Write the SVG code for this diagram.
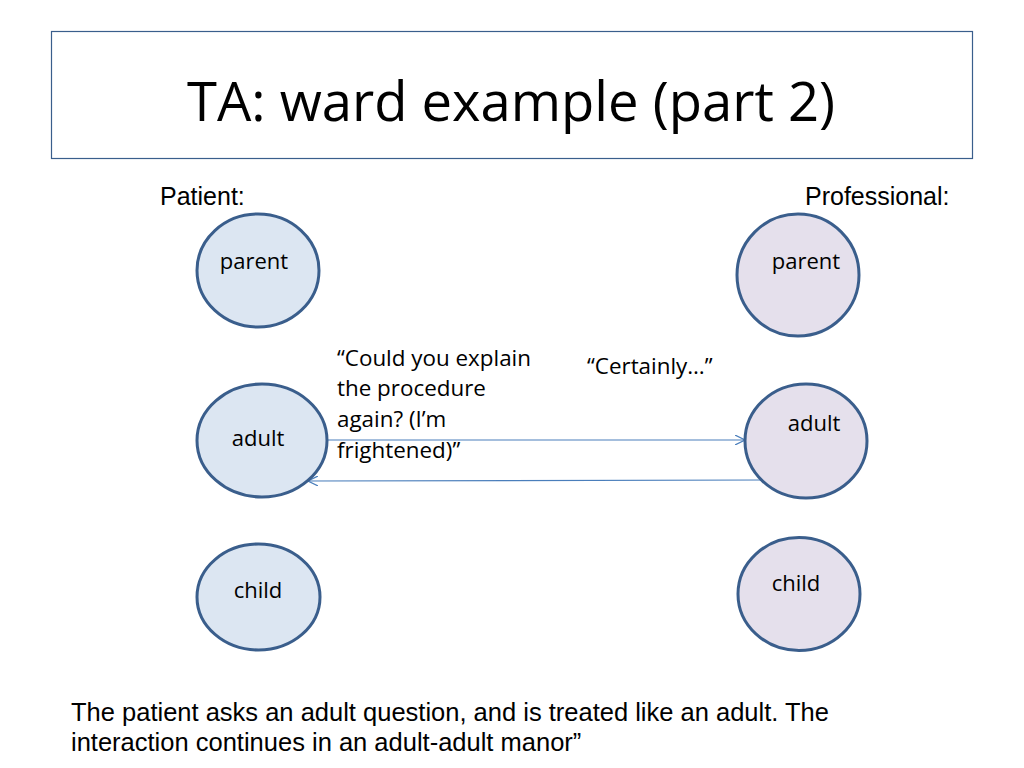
<svg xmlns="http://www.w3.org/2000/svg" width="1024" height="768" viewBox="0 0 1024 768">
<style>
.pat{fill:#DCE6F2;stroke:#3A5E8C;stroke-width:3}
.pro{fill:#E5E0EC;stroke:#3A5E8C;stroke-width:3}
.lbl{font-family:"Open Sans","Noto Sans",sans-serif;font-size:22px;fill:#000;text-anchor:middle}
.cal{font-family:"Open Sans","Noto Sans",sans-serif;font-size:22.4px;fill:#000}
.ar{font-family:"Liberation Sans",Arial,sans-serif;font-size:25px;fill:#000}
.cap{font-family:"Liberation Sans",Arial,sans-serif;font-size:25.5px;fill:#000}
.conn{stroke:#4A7EBB;stroke-width:1.2;fill:none}
</style>
<defs>
<marker id="arr" viewBox="0 0 10 10" refX="10" refY="5" markerWidth="10" markerHeight="10" markerUnits="userSpaceOnUse" orient="auto">
<path d="M0,0 L10,5 L0,10" fill="none" stroke="#4A7EBB" stroke-width="1.2"/>
</marker>
</defs>
<rect width="1024" height="768" fill="#fff"/>
<g id="title">
<rect x="51.5" y="31.5" width="921" height="127" fill="#fff" stroke="#3A5E8C" stroke-width="1.2"/>
<text x="511" y="121" font-family="Open Sans,Noto Sans,sans-serif" font-size="54" text-anchor="middle" textLength="648" lengthAdjust="spacingAndGlyphs">TA: ward example (part 2)</text>
</g>
<text class="ar" x="160" y="205">Patient:</text>
<text class="ar" x="805" y="205">Professional:</text>
<g id="connectors">
<line class="conn" x1="327" y1="440" x2="745" y2="440" marker-end="url(#arr)"/>
<line class="conn" x1="763" y1="480" x2="308" y2="481" marker-end="url(#arr)"/>
</g>
<g id="patient-parent">
<ellipse class="pat" cx="258" cy="270.5" rx="61" ry="56.5"/>
<text class="lbl" x="254" y="269">parent</text>
</g>
<g id="patient-adult">
<ellipse class="pat" cx="262" cy="440.5" rx="65" ry="56.5"/>
<text class="lbl" x="258" y="446">adult</text>
</g>
<g id="patient-child">
<ellipse class="pat" cx="258.5" cy="597" rx="61.5" ry="53"/>
<text class="lbl" x="258" y="598">child</text>
</g>
<g id="professional-parent">
<ellipse class="pro" cx="798" cy="275" rx="61" ry="61"/>
<text class="lbl" x="806" y="269">parent</text>
</g>
<g id="professional-adult">
<ellipse class="pro" cx="806" cy="441" rx="61" ry="57"/>
<text class="lbl" x="814" y="431">adult</text>
</g>
<g id="professional-child">
<ellipse class="pro" cx="799" cy="594" rx="61" ry="56.5"/>
<text class="lbl" x="796" y="591">child</text>
</g>
<g id="speech">
<text class="cal" x="337" y="366">“Could you explain</text>
<text class="cal" x="337" y="396">the procedure</text>
<text class="cal" x="337" y="427">again? (I’m</text>
<text class="cal" x="337" y="458">frightened)”</text>
<text class="cal" x="587" y="374">“Certainly…”</text>
</g>
<g id="caption">
<text class="cap" x="71" y="721">The patient asks an adult question, and is treated like an adult. The</text>
<text class="cap" x="71" y="751">interaction continues in an adult-adult manor”</text>
</g>
</svg>
